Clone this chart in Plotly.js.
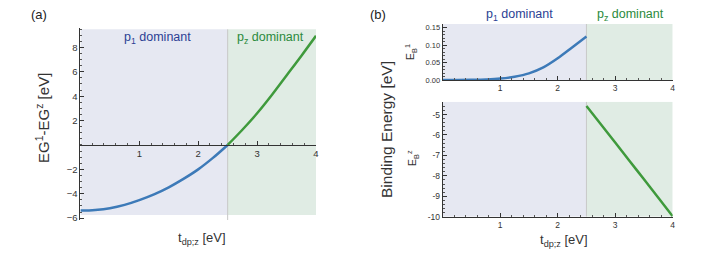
<!DOCTYPE html>
<html><head><meta charset="utf-8">
<script src="https://cdn.plot.ly/plotly-3.0.1.min.js"></script>
<style>html,body{margin:0;padding:0;background:#fff}#c{width:706px;height:256px}</style>
</head><body><div id="c"></div>
<script>
// Panel (a): EG1 - EGz vs t_dp;z
const tA1 = [0,0.25,0.5,0.75,1,1.25,1.5,1.75,2,2.25,2.5];
const eA1 = [-5.38,-5.32,-5.18,-4.91,-4.52,-4.05,-3.47,-2.78,-2.0,-1.06,0];
const tA2 = [2.5,2.75,3,3.25,3.5,3.75,4];
const eA2 = [0,1.25,2.6,4.1,5.7,7.3,8.95];
// Panel (b) top: E_B1
const tB1 = [0,0.25,0.5,0.75,1,1.25,1.5,1.75,2,2.25,2.5];
const eB1 = [0,0,0.0005,0.0015,0.004,0.0095,0.019,0.036,0.062,0.093,0.124];
// Panel (b) bottom: E_Bz
const tB2 = [2.5,2.75,3,3.25,3.5,3.75,4];
const eB2 = [-4.58,-5.47,-6.37,-7.27,-8.17,-9.07,-9.98];
// ticks
const xTicks = [1,2,3,4];
const yTicksA = [-6,-4,-2,2,4,6,8];
const yTextA = ['\u22126','\u22124','\u22122','2','4','6','8'];
const yTicksB1 = [0,0.05,0.10,0.15];
const yTextB1 = ['0.00','0.05','0.10','0.15'];
const yTicksB2 = [-10,-9,-8,-7,-6,-5];
const yTextB2 = ['-10','-9','-8','-7','-6','-5'];
const split = 2.5, tMin = 0, tMax = 4;

const BLUE = '#3d7ab8', GREEN = '#3f9a3c';
const FILLB = '#e6e8f2', FILLG = '#e0ece4';
const FONT = 'Liberation Sans, Arial, sans-serif';

const traces = [
  {x: tA1, y: eA1, xaxis:'x', yaxis:'y', mode:'lines', line:{color:BLUE, width:2.5, shape:'spline'}, hoverinfo:'skip'},
  {x: tA2, y: eA2, xaxis:'x', yaxis:'y', mode:'lines', line:{color:GREEN, width:2.5, shape:'spline'}, hoverinfo:'skip'},
  {x: tB1, y: eB1, xaxis:'x2', yaxis:'y2', mode:'lines', line:{color:BLUE, width:2.5, shape:'spline'}, hoverinfo:'skip'},
  {x: tB2, y: eB2, xaxis:'x3', yaxis:'y3', mode:'lines', line:{color:GREEN, width:2.5, shape:'spline'}, hoverinfo:'skip'}
];

const W = 706, H = 256;
const py = v => 1 - v / H;
const px = v => v / W;

function xax(domain, extra) {
  return Object.assign({
    domain: domain, range: [tMin, tMax], showgrid:false, zeroline:false,
    showline:true, linecolor:'#333', linewidth:1,
    ticks:'inside', ticklen:4, tickcolor:'#333', tickwidth:1,
    tickvals: xTicks, ticktext: xTicks.map(String),
    tickfont:{family:FONT, size:9.5, color:'#333'},
    minor:{dtick:0.2, ticks:'inside', ticklen:2, tickcolor:'#555', tick0:0},
    fixedrange:true
  }, extra);
}
function yax(domain, range, vals, text, minorDt, fs, extra) {
  return Object.assign({
    domain: domain, range: range, showgrid:false, zeroline:false,
    showline:true, linecolor:'#333', linewidth:1,
    ticks:'inside', ticklen:4, tickcolor:'#333', tickwidth:1,
    tickvals: vals, ticktext: text,
    tickfont:{family:FONT, size:fs, color:'#333'},
    minor:{dtick:minorDt, ticks:'inside', ticklen:2, tickcolor:'#555'},
    fixedrange:true
  }, extra);
}
function note(text, x, y, size, color, angle) {
  return {text:text, x:px(x), y:py(y), xref:'paper', yref:'paper', xanchor:'center', yanchor:'middle',
          showarrow:false, textangle: angle || 0, font:{family:FONT, size:size, color:color}};
}

// panel a geometry
const aYTop = 9.59, aYBot = -6.15;
const layout = {
  width: W, height: H, margin:{l:0,r:0,t:0,b:0},
  paper_bgcolor:'#fff', plot_bgcolor:'rgba(0,0,0,0)', showlegend:false,
  xaxis: xax([px(80.4), px(316)], {anchor:'free', position: py(145)}),
  yaxis: yax([py(220), py(28)], [aYBot, aYTop], yTicksA, yTextA, 0.5, 9.5, {anchor:'x'}),
  xaxis2: xax([px(442.7), px(672.7)], {anchor:'y2', tickfont:{family:FONT, size:8.5, color:'#333'}}),
  yaxis2: yax([py(80), py(24)], [0, 0.16], yTicksB1, yTextB1, 0.01, 7.5, {anchor:'x2'}),
  xaxis3: xax([px(442.7), px(672.7)], {anchor:'y3', tickfont:{family:FONT, size:8.5, color:'#333'}}),
  yaxis3: yax([py(216.7), py(101.7)], [-10, -4.37], yTicksB2, yTextB2, 0.2, 8.5, {anchor:'x3'}),
  shapes: [
    {type:'rect', xref:'x', yref:'y', x0:tMin, x1:split, y0:-5.74, y1:9.48, fillcolor:FILLB, line:{width:0}, layer:'below'},
    {type:'rect', xref:'x', yref:'y', x0:split, x1:tMax, y0:-5.74, y1:9.48, fillcolor:FILLG, line:{width:0}, layer:'below'},
    {type:'line', xref:'x', yref:'y', x0:split, x1:split, y0:aYBot, y1:9.48, line:{color:'#c8c8c8', width:1}, layer:'below'},
    {type:'rect', xref:'x2', yref:'y2', x0:tMin, x1:split, y0:0, y1:0.16, fillcolor:FILLB, line:{width:0}, layer:'below'},
    {type:'rect', xref:'x2', yref:'y2', x0:split, x1:tMax, y0:0, y1:0.16, fillcolor:FILLG, line:{width:0}, layer:'below'},
    {type:'line', xref:'x2', yref:'y2', x0:split, x1:split, y0:0, y1:0.16, line:{color:'#c8c8c8', width:1}, layer:'below'},
    {type:'rect', xref:'x3', yref:'y3', x0:tMin, x1:split, y0:-10, y1:-4.37, fillcolor:FILLB, line:{width:0}, layer:'below'},
    {type:'rect', xref:'x3', yref:'y3', x0:split, x1:tMax, y0:-10, y1:-4.37, fillcolor:FILLG, line:{width:0}, layer:'below'},
    {type:'line', xref:'x3', yref:'y3', x0:split, x1:split, y0:-10, y1:-4.37, line:{color:'#c8c8c8', width:1}, layer:'below'}
  ],
  annotations: [
    note('(a)', 39, 14, 13, '#222'),
    note('(b)', 378, 14, 13, '#222'),
    note('p<sub>1</sub> dominant', 157, 38, 12.5, '#2c3f94'),
    note('p<sub>z</sub> dominant', 270, 38, 12.5, '#2b8a3c'),
    note('p<sub>1</sub> dominant', 519, 15, 12.5, '#2c3f94'),
    note('p<sub>z</sub> dominant', 630, 15, 12.5, '#2b8a3c'),
    note('EG<sup>1</sup>-EG<sup>z</sup> [eV]', 42, 118, 15, '#333', -90),
    note('t<sub>dp;z</sub> [eV]', 202, 238, 13, '#333'),
    note('t<sub>dp;z</sub> [eV]', 564, 240, 13, '#333'),
    note('Binding Energy [eV]', 386, 130, 15.5, '#333', -90),
    note('E<sub>B</sub><sup>1</sup>', 411, 52, 10.5, '#333', -90),
    note('E<sub>B</sub><sup>z</sup>', 413, 158, 10.5, '#333', -90)
  ]
};
Plotly.newPlot('c', traces, layout, {staticPlot:true, displayModeBar:false});
</script></body></html>
